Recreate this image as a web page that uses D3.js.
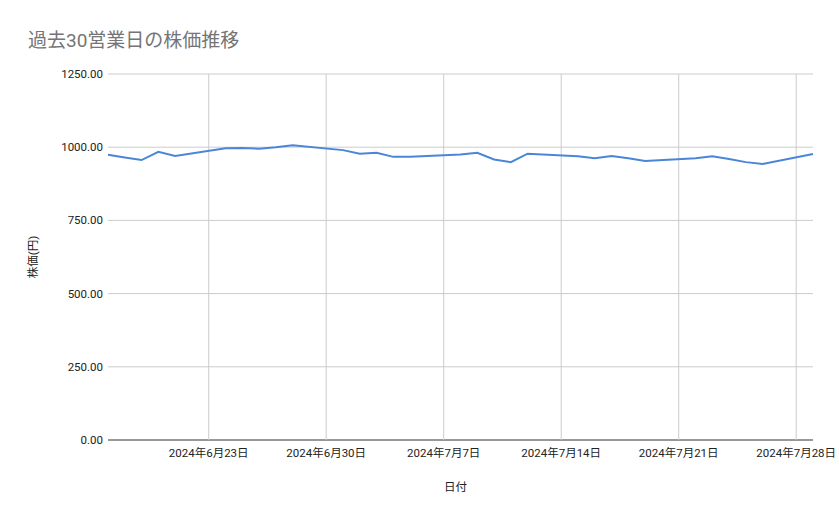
<!DOCTYPE html>
<html lang="ja">
<head>
<meta charset="UTF-8">
<title>過去30営業日の株価推移</title>
<script src="https://cdnjs.cloudflare.com/ajax/libs/d3/7.8.5/d3.min.js"></script>
<style>
  body { margin: 0; background: #fff; font-family: Roboto, "Noto Sans CJK JP", sans-serif; }
</style>
</head>
<body>
<svg width="839" height="519"></svg>
<script>
const dates = ['2024-06-17','2024-06-18','2024-06-19','2024-06-20','2024-06-21',
  '2024-06-24','2024-06-25','2024-06-26','2024-06-27','2024-06-28',
  '2024-07-01','2024-07-02','2024-07-03','2024-07-04','2024-07-05',
  '2024-07-08','2024-07-09','2024-07-10','2024-07-11','2024-07-12',
  '2024-07-15','2024-07-16','2024-07-17','2024-07-18','2024-07-19',
  '2024-07-22','2024-07-23','2024-07-24','2024-07-25','2024-07-26','2024-07-29'];
const prices = [974, 965, 956, 984, 970,
  996, 997, 995, 1000, 1007,
  990, 978, 981, 967, 967,
  975, 981, 958, 949, 978,
  969, 962, 970, 962, 953,
  962, 969, 960, 949, 943, 977];
const yTicks = [0, 250, 500, 750, 1000, 1250];
const xTicks = ['2024-06-23','2024-06-30','2024-07-07','2024-07-14','2024-07-21','2024-07-28'];

const parse = d3.timeParse('%Y-%m-%d');
const data = dates.map((d, i) => ({ date: parse(d), price: prices[i] }));

const svg = d3.select('svg');
const plotL = 108, plotR = 813, plotT = 74, plotB = 440;

const x = d3.scaleTime().domain([parse('2024-06-17'), parse('2024-07-29')]).range([plotL, plotR]);
const y = d3.scaleLinear().domain([0, 1250]).range([plotB, plotT]);

// title
svg.append('text').attr('x', 28).attr('y', 47)
  .attr('font-size', 19).attr('fill', '#757575')
  .text('過去30営業日の株価推移');

// horizontal grid + y labels
svg.append('g').selectAll('line').data(yTicks).join('line')
  .attr('x1', plotL).attr('x2', plotR)
  .attr('y1', d => y(d)).attr('y2', d => y(d))
  .attr('stroke', d => d === 0 ? '#333' : '#ccc').attr('stroke-width', 1);
svg.append('g').selectAll('text').data(yTicks).join('text')
  .attr('x', plotL - 5).attr('y', d => y(d) + 4)
  .attr('text-anchor', 'end').attr('font-size', 11.5).attr('fill', '#222')
  .text(d => d3.format('.2f')(d));

// vertical grid + x labels
svg.append('g').selectAll('line').data(xTicks).join('line')
  .attr('x1', d => x(parse(d))).attr('x2', d => x(parse(d)))
  .attr('y1', plotT).attr('y2', plotB)
  .attr('stroke', '#ccc');
svg.append('g').selectAll('text').data(xTicks).join('text')
  .attr('x', d => x(parse(d))).attr('y', plotB + 17)
  .attr('text-anchor', 'middle').attr('font-size', 11.5).attr('fill', '#222')
  .text(d => d3.timeFormat('%Y年%-m月%-d日')(parse(d)));

// axis titles
svg.append('text').attr('x', (plotL + plotR) / 2 - 5).attr('y', 491)
  .attr('text-anchor', 'middle').attr('font-size', 11.5).attr('fill', '#222').text('日付');
svg.append('text').attr('transform', `translate(37,${(plotT + plotB) / 2}) rotate(-90)`)
  .attr('text-anchor', 'middle').attr('font-size', 11.5).attr('fill', '#222').text('株価(円)');

// line
svg.append('path').datum(data)
  .attr('fill', 'none').attr('stroke', '#4a86d8').attr('stroke-width', 2)
  .attr('d', d3.line().x(d => x(d.date)).y(d => y(d.price)));
</script>
</body>
</html>
